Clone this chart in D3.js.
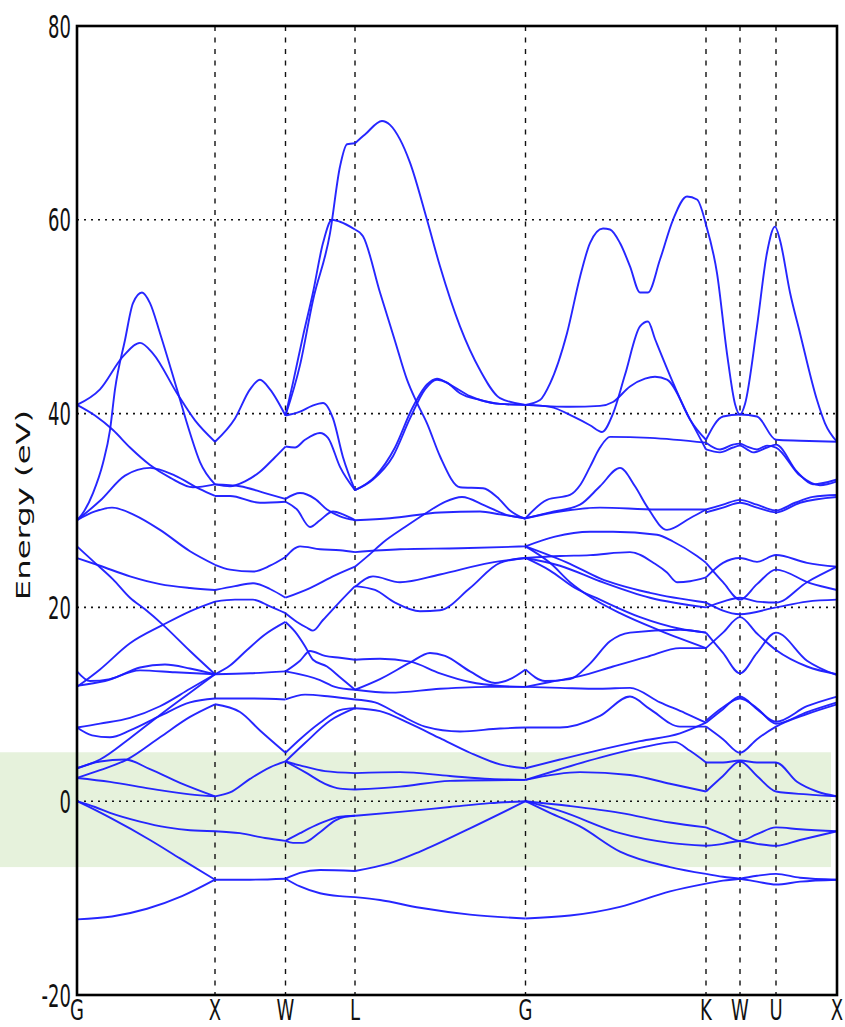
<!DOCTYPE html>
<html><head><meta charset="utf-8">
<script src="https://cdn.jsdelivr.net/npm/d3@7"></script>
<style>html,body{margin:0;padding:0;background:#fff;}svg{display:block;}</style>
</head><body>
<svg id="c" width="845" height="1027"></svg>
<script>
// ---------- data ----------
const kTicks  = [0, 1.38, 2.085, 2.78, 4.485, 6.29, 6.63, 6.99, 7.60];
const kLabels = ["G","X","W","L","G","K","W","U","X"];
const yTicks  = [-20, 0, 20, 40, 60, 80];
const yGrid   = [0, 20, 40, 60];
const fermiWindow = [-6.8, 5.05];   // shaded energy window (eV)

// bands, one array per k-path segment: [k, E(eV)]
const bandsGX = [
 [[0,40.9],[0.23,42.5],[0.46,45.9],[0.63,47.3],[0.76,46.2],[1.0,42.1],[1.18,39.3],[1.38,37.1]],
 [[0,29.0],[0.05,29.6],[0.16,31.8],[0.26,34.9],[0.33,38.3],[0.38,42.5],[0.48,47.6],[0.56,51.4],[0.65,52.5],[0.73,51.4],[0.83,48.3],[1.0,42.5],[1.13,38],[1.23,35],[1.38,32.7]],
 [[0,40.9],[0.18,39.8],[0.36,38.3],[0.53,36.5],[0.73,34.7],[0.93,33.4],[1.16,32.4],[1.38,32.7]],
 [[0,29.0],[0.23,31.0],[0.48,33.6],[0.73,34.4],[0.98,33.6],[1.23,32.2],[1.38,31.5]],
 [[0,29.0],[0.18,29.9],[0.35,30.3],[0.58,29.5],[0.83,28.0],[1.13,25.8],[1.38,24.4]],
 [[0,26.3],[0.18,24.6],[0.36,22.9],[0.53,21.0],[0.68,19.8],[0.86,18.2],[1.13,15.5],[1.38,13.1]],
 [[0,25.1],[0.23,24.3],[0.53,23.2],[0.83,22.4],[1.13,22.0],[1.38,21.8]],
 [[0,11.8],[0.23,13.6],[0.53,16.3],[0.86,18.2],[1.13,19.6],[1.38,20.6]],
 [[0,13.4],[0.13,12.4],[0.33,12.6],[0.63,13.8],[0.88,14.1],[1.13,13.7],[1.38,13.1]],
 [[0,11.9],[0.28,12.4],[0.63,13.5],[0.98,13.3],[1.38,13.1]],
 [[0,7.6],[0.23,8.0],[0.53,8.6],[0.83,9.8],[1.13,11.6],[1.38,13.1]],
 [[0,7.6],[0.15,6.8],[0.33,6.6],[0.53,7.3],[0.83,8.8],[1.13,10.2],[1.38,10.6]],
 [[0,3.4],[0.23,4.3],[0.53,6.5],[0.83,8.9],[1.13,11.2],[1.38,13.1]],
 [[0,3.4],[0.23,4.1],[0.48,4.3],[0.73,3.3],[1.03,1.9],[1.38,0.5]],
 [[0,2.4],[0.33,2.0],[0.73,1.3],[1.13,0.7],[1.38,0.5]],
 [[0,2.4],[0.23,3.2],[0.5,4.3],[0.83,6.6],[1.13,8.7],[1.38,10.0]],
 [[0,0],[0.18,-0.6],[0.33,-1.2],[0.63,-2.1],[0.9,-2.7],[1.13,-3.0],[1.38,-3.1]],
 [[0,0],[0.18,-0.9],[0.33,-1.7],[0.73,-4.0],[1.03,-5.9],[1.38,-8.1]],
 [[0,-12.2],[0.35,-11.9],[0.7,-11.1],[1.05,-9.8],[1.38,-8.1]]
];
const bandsXW = [
 [[1.38,37.1],[1.58,39.5],[1.73,42.5],[1.83,43.5],[1.93,42.5],[2.085,39.8]],
 [[1.38,32.7],[1.53,32.5],[1.68,33.0],[1.83,34.0],[1.98,35.5],[2.085,36.6]],
 [[1.38,31.5],[1.53,31.5],[1.83,30.8],[2.085,30.9]],
 [[1.38,32.7],[1.63,32.5],[1.88,31.8],[2.085,31.2]],
 [[1.38,24.4],[1.53,23.9],[1.76,23.7],[1.93,24.3],[2.085,25.2]],
 [[1.38,21.8],[1.58,22.2],[1.76,22.5],[1.93,21.9],[2.085,21.0]],
 [[1.38,20.6],[1.58,20.8],[1.76,20.8],[1.93,20.1],[2.085,19.4]],
 [[1.38,13.1],[1.53,14.0],[1.70,15.6],[1.88,17.2],[2.085,18.5]],
 [[1.38,13.1],[1.73,13.2],[2.085,13.4]],
 [[1.38,10.6],[1.73,10.6],[2.085,10.5]],
 [[1.38,10.0],[1.63,9.2],[1.83,7.3],[2.085,5.0]],
 [[1.38,0.5],[1.53,0.9],[1.73,2.3],[1.93,3.5],[2.085,4.1]],
 [[1.38,-3.1],[1.63,-3.3],[1.88,-3.8],[2.085,-4.1]],
 [[1.38,-8.1],[1.73,-8.1],[2.085,-8.0]]
];
const bandsWL = [
 [[2.085,39.8],[2.16,43.2],[2.26,48],[2.36,52.5],[2.46,57.6],[2.55,60.0],[2.63,59.8],[2.78,59.0]],
 [[2.085,39.8],[2.23,45],[2.36,51.7],[2.53,58.6],[2.63,65.5],[2.70,67.8],[2.78,67.9]],
 [[2.085,39.8],[2.23,40.2],[2.35,40.8],[2.46,41.1],[2.56,39.5],[2.66,35.5],[2.78,32.1]],
 [[2.085,36.6],[2.18,36.5],[2.28,37.3],[2.43,38.0],[2.51,37.5],[2.63,34.5],[2.78,32.1]],
 [[2.085,31.2],[2.23,31.8],[2.38,31.2],[2.50,30.1],[2.63,29.4],[2.78,29.0]],
 [[2.085,30.9],[2.20,30.1],[2.33,28.3],[2.43,29.0],[2.56,29.9],[2.66,29.6],[2.78,29.0]],
 [[2.085,25.2],[2.23,26.3],[2.43,26.0],[2.63,25.9],[2.78,25.7]],
 [[2.085,21.0],[2.33,22.0],[2.58,23.3],[2.78,24.2]],
 [[2.085,19.4],[2.20,18.5],[2.30,17.9],[2.36,17.6],[2.46,18.7],[2.63,20.6],[2.78,22.2]],
 [[2.085,18.5],[2.18,17.5],[2.28,16.0],[2.36,14.6],[2.50,13.9],[2.63,12.8],[2.78,11.5]],
 [[2.085,13.4],[2.23,14.5],[2.33,15.5],[2.48,15.0],[2.63,14.8],[2.78,14.6]],
 [[2.085,13.4],[2.43,12.5],[2.58,11.8],[2.78,11.5]],
 [[2.085,10.5],[2.28,11.0],[2.53,10.8],[2.78,10.5]],
 [[2.085,5.0],[2.23,6.4],[2.43,8.1],[2.63,9.4],[2.78,9.6]],
 [[2.085,4.1],[2.28,6.0],[2.53,8.3],[2.78,9.6]],
 [[2.085,4.1],[2.23,3.7],[2.48,3.1],[2.78,2.9]],
 [[2.085,4.1],[2.28,3.0],[2.48,1.8],[2.63,1.3],[2.78,1.2]],
 [[2.085,-4.1],[2.23,-3.3],[2.43,-2.3],[2.63,-1.6],[2.78,-1.5]],
 [[2.085,-4.1],[2.16,-4.3],[2.26,-4.3],[2.43,-3.2],[2.58,-2.0],[2.68,-1.6],[2.78,-1.5]],
 [[2.085,-8.0],[2.23,-7.4],[2.43,-7.1],[2.78,-7.2]],
 [[2.085,-8.0],[2.23,-8.8],[2.43,-9.5],[2.63,-9.8],[2.78,-9.9]]
];
const bandsLG = [
 [[2.78,67.9],[2.88,68.8],[3.05,70.2],[3.13,69.8],[3.23,68.3],[3.33,65.9],[3.50,60.0],[3.63,55.2],[3.83,49.0],[4.03,44.5],[4.23,41.6],[4.485,40.9]],
 [[2.78,59.0],[2.86,58.3],[3.03,52.5],[3.18,47.5],[3.30,43.5],[3.40,41.1],[3.50,39.0],[3.63,35.6],[3.83,32.4],[4.06,32.3],[4.20,31.4],[4.33,30.0],[4.485,29.1]],
 [[2.78,32.1],[2.96,33.2],[3.16,35.6],[3.33,39.5],[3.48,42.5],[3.60,43.5],[3.70,43.2],[3.83,42.1],[4.03,41.4],[4.23,41.0],[4.485,40.9]],
 [[2.78,32.1],[2.98,33.5],[3.18,36.5],[3.35,40.5],[3.50,43.0],[3.60,43.6],[3.73,43.0],[3.93,41.8],[4.23,41.0],[4.485,40.9]],
 [[2.78,29.0],[3.13,29.2],[3.63,29.8],[4.03,29.9],[4.23,29.6],[4.485,29.2]],
 [[2.78,24.2],[2.93,25.5],[3.06,26.7],[3.28,28.3],[3.50,29.8],[3.68,30.9],[3.85,31.4],[4.08,30.5],[4.28,29.6],[4.485,29.2]],
 [[2.78,25.7],[3.23,26.0],[3.83,26.1],[4.485,26.3]],
 [[2.78,22.1],[2.96,23.2],[3.23,22.6],[3.63,23.4],[4.13,24.6],[4.485,25.1]],
 [[2.78,22.2],[2.98,21.8],[3.18,20.5],[3.43,19.6],[3.63,19.7],[3.93,22.0],[4.23,24.6],[4.485,25.1]],
 [[2.78,14.6],[3.03,14.7],[3.33,14.4],[3.63,13.2],[3.93,12.3],[4.23,11.9],[4.485,11.8]],
 [[2.78,11.5],[3.03,12.6],[3.33,14.3],[3.53,15.3],[3.68,15.0],[3.93,13.4],[4.18,12.2],[4.33,12.6],[4.485,13.6]],
 [[2.78,11.5],[3.13,11.2],[3.63,11.6],[4.13,11.8],[4.485,11.8]],
 [[2.78,10.5],[2.98,10.2],[3.23,8.9],[3.48,7.7],[3.83,7.2],[4.23,7.5],[4.485,7.6]],
 [[2.78,9.6],[3.03,9.3],[3.33,8.0],[3.63,6.5],[3.93,5.0],[4.23,3.8],[4.485,3.4]],
 [[2.78,2.9],[3.23,3.0],[3.73,2.6],[4.13,2.3],[4.485,2.2]],
 [[2.78,1.2],[3.23,1.5],[3.73,2.1],[4.485,2.2]],
 [[2.78,-1.5],[3.23,-1.1],[3.73,-0.6],[4.13,-0.2],[4.485,0]],
 [[2.78,-7.2],[3.13,-6.4],[3.43,-5.2],[3.93,-2.8],[4.485,0]],
 [[2.78,-9.9],[3.03,-10.2],[3.43,-11.0],[3.93,-11.7],[4.485,-12.1]]
];
const bandsGK = [
 [[4.485,40.9],[4.63,41.4],[4.73,43.1],[4.90,48.3],[5.03,54.1],[5.13,57.6],[5.26,59.1],[5.33,59.0],[5.43,57.6],[5.53,55.2],[5.63,52.5],[5.71,52.5],[5.83,55.9],[5.96,60.0],[6.10,62.4],[6.20,62.1],[6.29,59.5]],
 [[4.485,40.9],[4.73,40.7],[4.98,39.6],[5.13,38.8],[5.25,38.1],[5.36,40.0],[5.48,44.0],[5.63,49.0],[5.71,49.5],[5.78,47.7],[5.96,43.2],[6.13,39.4],[6.29,37.3]],
 [[4.485,40.9],[4.93,40.7],[5.23,40.8],[5.36,41.2],[5.53,42.8],[5.68,43.6],[5.78,43.8],[5.90,43.5],[6.13,39.4],[6.29,36.3]],
 [[4.485,29.2],[4.70,31.1],[4.93,31.6],[5.03,32.6],[5.13,34.5],[5.23,36.5],[5.33,37.6],[5.73,37.5],[6.29,37.0]],
 [[4.485,29.2],[4.73,29.8],[5.03,30.6],[5.23,32.5],[5.43,34.4],[5.58,32.5],[5.70,30.4],[5.90,28.0],[6.13,29.2],[6.29,30.1]],
 [[4.485,29.2],[4.83,29.9],[5.23,30.3],[5.80,30.1],[6.29,30.1]],
 [[4.485,26.3],[4.78,27.3],[5.13,27.8],[5.36,27.8],[5.80,27.5],[5.96,26.8],[6.20,25.3],[6.29,24.6]],
 [[4.485,25.1],[4.83,25.3],[5.13,25.4],[5.53,25.7],[5.78,24.5],[5.90,23.6],[6.00,22.6],[6.13,22.7],[6.29,23.1]],
 [[4.485,26.3],[4.73,24.6],[4.93,22.6],[5.13,21.1],[5.43,19.4],[5.83,17.6],[6.29,15.8]],
 [[4.485,25.1],[4.73,23.8],[4.98,22.0],[5.23,20.8],[5.63,19.0],[6.03,17.8],[6.29,17.4]],
 [[4.485,25.1],[4.83,24.3],[5.23,22.7],[5.73,21.0],[6.29,20.0]],
 [[4.485,26.3],[4.93,24.5],[5.23,23.0],[5.73,21.5],[6.29,20.5]],
 [[4.485,13.6],[4.68,12.4],[4.93,12.6],[5.13,14.2],[5.33,16.5],[5.53,17.4],[6.03,17.7],[6.29,17.4]],
 [[4.485,11.8],[4.73,12.3],[5.03,12.9],[5.36,13.9],[5.70,14.9],[6.03,15.8],[6.29,15.8]],
 [[4.485,11.8],[4.83,11.7],[5.23,11.6],[5.53,11.7],[5.83,10.2],[6.08,9.1],[6.29,8.1]],
 [[4.485,7.6],[4.83,7.6],[5.23,8.8],[5.53,10.8],[5.73,9.5],[6.03,7.7],[6.29,7.7]],
 [[4.485,3.4],[4.83,4.3],[5.23,5.3],[5.63,6.2],[6.03,7.0],[6.29,8.1]],
 [[4.485,2.2],[4.83,3.3],[5.23,4.5],[5.63,5.5],[5.98,6.1],[6.13,5.2],[6.29,4.0]],
 [[4.485,2.2],[5.03,3.0],[5.53,2.7],[5.93,1.8],[6.29,1.0]],
 [[4.485,0],[4.93,-0.5],[5.43,-1.2],[5.93,-2.2],[6.29,-2.7]],
 [[4.485,0],[4.83,-1.0],[5.43,-3.3],[5.93,-4.3],[6.29,-4.6]],
 [[4.485,0],[4.73,-1.2],[5.03,-2.6],[5.43,-5.2],[5.93,-6.8],[6.29,-7.5]],
 [[4.485,-12.1],[4.93,-11.8],[5.43,-10.9],[5.93,-9.3],[6.29,-8.5]]
];
const bandsKX = [
 [[6.29,59.5],[6.40,54.5],[6.50,46.2],[6.58,41],[6.63,39.9],[6.68,41],[6.80,49.0],[6.90,56.6],[6.98,59.3],[7.03,57.9],[7.13,52.5],[7.23,48.3],[7.40,41.4],[7.48,39],[7.60,37.1]],
 [[6.29,37.3],[6.46,39.7],[6.63,39.9],[6.80,39.7],[6.99,37.3],[7.23,37.2],[7.60,37.1]],
 [[6.29,36.3],[6.43,36.0],[6.56,36.5],[6.63,36.7],[6.70,36.3],[6.76,36.0],[6.90,36.5],[6.99,36.8],[7.20,34.0],[7.36,32.7],[7.60,33.2]],
 [[6.29,37.0],[6.43,36.3],[6.56,36.8],[6.63,36.9],[6.70,36.6],[6.80,36.3],[6.90,36.7],[6.99,36.5],[7.23,33.6],[7.43,32.6],[7.60,33.0]],
 [[6.29,30.1],[6.46,30.6],[6.63,31.1],[6.80,30.6],[6.99,30.0],[7.18,30.8],[7.36,31.4],[7.60,31.6]],
 [[6.29,29.8],[6.46,30.3],[6.63,30.8],[6.80,30.3],[6.99,29.8],[7.23,30.8],[7.60,31.4]],
 [[6.29,23.1],[6.46,24.6],[6.63,25.1],[6.80,24.7],[6.99,25.4],[7.30,24.6],[7.60,24.2]],
 [[6.29,24.6],[6.46,22.6],[6.63,20.8],[6.80,22.4],[6.99,23.9],[7.33,22.5],[7.60,21.8]],
 [[6.29,20.0],[6.46,20.6],[6.63,21.0],[6.80,20.6],[6.99,20.5],[7.30,22.6],[7.60,24.2]],
 [[6.29,20.5],[6.63,19.3],[6.99,20.0],[7.30,20.6],[7.60,20.8]],
 [[6.29,15.8],[6.46,17.4],[6.63,19.0],[6.80,17.3],[6.99,15.6],[7.30,13.9],[7.60,13.1]],
 [[6.29,17.4],[6.46,15.3],[6.63,13.2],[6.80,15.3],[6.99,17.4],[7.30,14.5],[7.60,13.0]],
 [[6.29,8.1],[6.46,9.5],[6.63,10.8],[6.80,9.5],[6.99,8.2],[7.30,9.8],[7.60,10.8]],
 [[6.29,8.3],[6.46,9.7],[6.63,10.6],[6.80,9.6],[6.99,8.0],[7.30,9.2],[7.60,10.2]],
 [[6.29,7.7],[6.46,6.4],[6.63,5.0],[6.80,6.4],[6.99,7.7],[7.30,9.0],[7.60,10.0]],
 [[6.29,4.0],[6.46,4.0],[6.63,4.2],[6.80,4.0],[6.99,4.0],[7.20,2.0],[7.40,1.0],[7.60,0.5]],
 [[6.29,1.0],[6.46,2.6],[6.63,4.1],[6.80,2.6],[6.99,1.0],[7.30,0.7],[7.60,0.5]],
 [[6.29,-2.7],[6.46,-3.4],[6.63,-4.1],[6.80,-3.4],[6.99,-2.7],[7.23,-2.9],[7.60,-3.1]],
 [[6.29,-4.6],[6.46,-4.4],[6.63,-4.1],[6.80,-4.4],[6.99,-4.6],[7.23,-4.0],[7.60,-3.1]],
 [[6.29,-7.5],[6.46,-7.8],[6.63,-8.0],[6.80,-8.3],[6.99,-8.6],[7.23,-8.3],[7.60,-8.1]],
 [[6.29,-8.5],[6.46,-8.2],[6.63,-8.0],[6.80,-7.7],[6.99,-7.5],[7.23,-7.9],[7.60,-8.1]]
];

// ---------- drawing ----------
const svg = d3.select("#c");
const L = 77, R = 837, T = 26, B = 995;
const x = d3.scaleLinear().domain([kTicks[0], kTicks[kTicks.length-1]]).range([L, R]);
const y = d3.scaleLinear().domain([-20, 80]).range([B, T]);

// shaded window
svg.append("rect")
  .attr("x", 0).attr("width", 831)
  .attr("y", y(fermiWindow[1])).attr("height", y(fermiWindow[0]) - y(fermiWindow[1]))
  .attr("fill", "#e6f2dc");

// grid
const g = svg.append("g");
g.selectAll("line.hg").data(yGrid).join("line")
  .attr("x1", L).attr("x2", R).attr("y1", d => y(d)).attr("y2", d => y(d))
  .attr("stroke", "#111").attr("stroke-width", 1.6).attr("stroke-dasharray", "2,5");
g.selectAll("line.vg").data(kTicks.slice(1, -1)).join("line")
  .attr("x1", d => x(d)).attr("x2", d => x(d)).attr("y1", T).attr("y2", B)
  .attr("stroke", "#111").attr("stroke-width", 1.4).attr("stroke-dasharray", "5,6.5");

// bands
const line = d3.line().x(d => x(d[0])).y(d => y(d[1])).curve(d3.curveMonotoneX);
const allBands = [].concat(bandsGX, bandsXW, bandsWL, bandsLG, bandsGK, bandsKX);
svg.append("g").selectAll("path").data(allBands).join("path")
  .attr("d", line).attr("fill", "none")
  .attr("stroke", "#1a1aff").attr("stroke-width", 1.9).attr("stroke-opacity", 0.95)
  .attr("stroke-linejoin", "round");

// frame
svg.append("rect").attr("x", L).attr("y", T).attr("width", R - L).attr("height", B - T)
  .attr("fill", "none").attr("stroke", "#000").attr("stroke-width", 2.6);

// y tick labels (stretched vertically like the original)
svg.append("g").selectAll("text").data(yTicks).join("text")
  .attr("transform", d => `translate(71,${y(d)}) scale(1,1.8)`)
  .attr("dy", "0.36em").attr("text-anchor", "end")
  .attr("font-family", "DejaVu Sans").attr("font-size", 18).attr("fill", "#111")
  .text(d => d);

// x tick labels
svg.append("g").selectAll("text").data(kTicks).join("text")
  .attr("transform", d => `translate(${x(d)},1020) scale(1,1.55)`)
  .attr("text-anchor", "middle")
  .attr("font-family", "DejaVu Sans").attr("font-size", 18).attr("fill", "#111")
  .text((d, i) => kLabels[i]);

// y axis title
svg.append("text")
  .attr("transform", "translate(30,505) scale(1,1.7) rotate(-90)")
  .attr("text-anchor", "middle")
  .attr("font-family", "DejaVu Sans").attr("font-size", 19).attr("fill", "#111")
  .text("Energy (eV)");
</script>
</body></html>
